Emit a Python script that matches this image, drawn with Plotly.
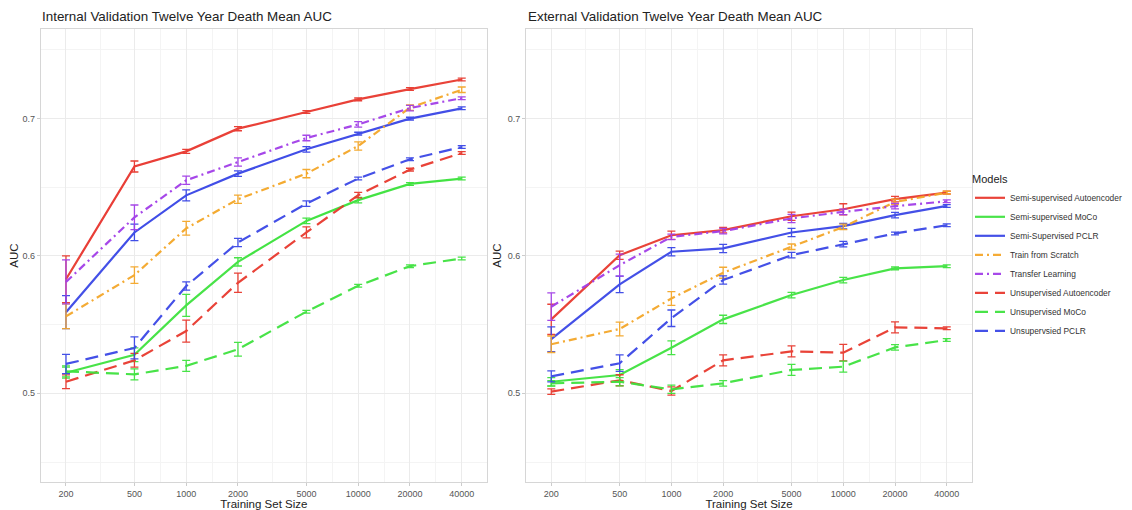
import plotly.graph_objects as go

# page body has an 8px margin, so the figure is drawn 8px in from the window edge
OFF = 8
W, H = 1132 - OFF, 510 - OFF
TOP, BOTTOM = 29, 482  # plot area, window pixels


def px_x(px):
    return (px - OFF) / W


def px_y(py):
    return (BOTTOM - py) / (BOTTOM - TOP)


sizes = [200, 500, 1000, 2000, 5000, 10000, 20000, 40000]
tick_text = ["200", "500", "1000", "2000", "5000", "10000", "20000", "40000"]

models = ["Semi-supervised Autoencoder", "Semi-supervised MoCo", "Semi-Supervised PCLR",
          "Train from Scratch", "Transfer Learning", "Unsupervised Autoencoder",
          "Unsupervised MoCo", "Unsupervsied PCLR"]

# internal validation mean AUC
int_semi_ae = [0.583, 0.665, 0.676, 0.6925, 0.7046, 0.7138, 0.7213, 0.7283]
int_semi_moco = [0.515, 0.528, 0.564, 0.5956, 0.6254, 0.6405, 0.6523, 0.6562]
int_semi_pclr = [0.559, 0.617, 0.644, 0.6598, 0.6775, 0.6889, 0.6998, 0.7073]
int_scratch = [0.556, 0.586, 0.620, 0.6412, 0.6598, 0.6799, 0.7078, 0.7208]
int_transfer = [0.581, 0.628, 0.655, 0.6683, 0.6857, 0.6956, 0.7075, 0.7147]
int_unsup_ae = [0.5084, 0.524, 0.5453, 0.5804, 0.617, 0.6441, 0.6627, 0.6748]
int_unsup_moco = [0.516, 0.5138, 0.520, 0.532, 0.5594, 0.5782, 0.5925, 0.5981]
int_unsup_pclr = [0.5214, 0.533, 0.578, 0.6097, 0.638, 0.6562, 0.6702, 0.6792]

int_semi_ae_err = [0.017, 0.004, 0.0015, 0.0015, 0.001, 0.001, 0.001, 0.001]
int_semi_moco_err = [0.004, 0.005, 0.008, 0.003, 0.002, 0.002, 0.001, 0.001]
int_semi_pclr_err = [0.012, 0.006, 0.004, 0.002, 0.002, 0.001, 0.001, 0.001]
int_scratch_err = [0.009, 0.006, 0.005, 0.003, 0.003, 0.003, 0.002, 0.002]
int_transfer_err = [0.016, 0.009, 0.003, 0.003, 0.002, 0.002, 0.002, 0.001]
int_unsup_ae_err = [0.005, 0.005, 0.008, 0.007, 0.004, 0.002, 0.001, 0.001]
int_unsup_moco_err = [0.004, 0.004, 0.004, 0.005, 0.001, 0.001, 0.001, 0.001]
int_unsup_pclr_err = [0.007, 0.008, 0.003, 0.003, 0.002, 0.001, 0.001, 0.001]

# external validation mean AUC
ext_semi_ae = [0.5538, 0.6005, 0.615, 0.6187, 0.6288, 0.6339, 0.6412, 0.646]
ext_semi_moco = [0.5084, 0.5133, 0.5332, 0.5538, 0.5715, 0.5824, 0.5909, 0.5925]
ext_semi_pclr = [0.5394, 0.5792, 0.603, 0.6054, 0.617, 0.6216, 0.6296, 0.6363]
ext_scratch = [0.5357, 0.5468, 0.569, 0.5877, 0.6066, 0.621, 0.6392, 0.646]
ext_transfer = [0.563, 0.5932, 0.6138, 0.618, 0.6272, 0.632, 0.6361, 0.6397]
ext_unsup_ae = [0.5012, 0.5095, 0.5017, 0.524, 0.5305, 0.5296, 0.548, 0.5473]
ext_unsup_moco = [0.5073, 0.5084, 0.5029, 0.5073, 0.517, 0.5194, 0.5334, 0.5388]
ext_unsup_pclr = [0.5123, 0.5219, 0.5546, 0.5824, 0.6005, 0.6085, 0.6163, 0.6223]

ext_semi_ae_err = [0.011, 0.003, 0.003, 0.002, 0.003, 0.004, 0.002, 0.001]
ext_semi_moco_err = [0.003, 0.004, 0.005, 0.003, 0.002, 0.002, 0.001, 0.001]
ext_semi_pclr_err = [0.009, 0.006, 0.003, 0.003, 0.003, 0.002, 0.002, 0.001]
ext_scratch_err = [0.006, 0.005, 0.005, 0.004, 0.002, 0.002, 0.002, 0.001]
ext_transfer_err = [0.010, 0.008, 0.002, 0.002, 0.003, 0.002, 0.002, 0.001]
ext_unsup_ae_err = [0.002, 0.004, 0.003, 0.004, 0.004, 0.006, 0.004, 0.001]
ext_unsup_moco_err = [0.002, 0.003, 0.003, 0.002, 0.004, 0.004, 0.002, 0.001]
ext_unsup_pclr_err = [0.004, 0.006, 0.006, 0.003, 0.002, 0.002, 0.001, 0.001]

internal = [(int_semi_ae, int_semi_ae_err), (int_semi_moco, int_semi_moco_err),
            (int_semi_pclr, int_semi_pclr_err), (int_scratch, int_scratch_err),
            (int_transfer, int_transfer_err), (int_unsup_ae, int_unsup_ae_err),
            (int_unsup_moco, int_unsup_moco_err), (int_unsup_pclr, int_unsup_pclr_err)]
external = [(ext_semi_ae, ext_semi_ae_err), (ext_semi_moco, ext_semi_moco_err),
            (ext_semi_pclr, ext_semi_pclr_err), (ext_scratch, ext_scratch_err),
            (ext_transfer, ext_transfer_err), (ext_unsup_ae, ext_unsup_ae_err),
            (ext_unsup_moco, ext_unsup_moco_err), (ext_unsup_pclr, ext_unsup_pclr_err)]

RED, GREEN, BLUE = "#e8392e", "#3fe23f", "#3a47e6"
ORANGE, PURPLE = "#f4a72a", "#a23fe8"
colors = [RED, GREEN, BLUE, ORANGE, PURPLE, RED, GREEN, BLUE]
DASH = "13px,7px"
DASHDOT = "8px,4px,2px,4px"
dashes = ["solid", "solid", "solid", DASHDOT, DASHDOT, DASH, DASH, DASH]

fig = go.Figure()

for panel, (data, xa, ya) in enumerate([(internal, "x", "y"), (external, "x2", "y2")]):
    for i, (vals, err) in enumerate(data):
        fig.add_trace(go.Scatter(
            x=sizes, y=vals, mode="lines", name=models[i],
            legendgroup=models[i], showlegend=(panel == 0),
            line=dict(color=colors[i], width=2.2, dash=dashes[i]),
            opacity=0.95,
            error_y=dict(type="data", array=err, visible=True, color=colors[i],
                         thickness=1.3, width=4),
            xaxis=xa, yaxis=ya,
        ))

# minor gridlines halfway (in log space) between the size ticks
minor_vals = [(a * b) ** 0.5 for a, b in zip(sizes[:-1], sizes[1:])]
minor_vals = [200 * (200 / 500) ** 0.5] + minor_vals + [40000 * (40000 / 20000) ** 0.5]

GRID = "#ebebeb"
BORDER = "#d6d6d6"
xcommon = dict(type="log", range=[2.154, 4.749], tickvals=sizes, ticktext=tick_text,
               showgrid=True, gridcolor=GRID, gridwidth=1,
               minor=dict(tickmode="array", tickvals=minor_vals, showgrid=True,
                          gridcolor="#f4f4f4", gridwidth=1),
               showline=True, linecolor=BORDER, linewidth=1, mirror=True,
               ticks="outside", ticklen=3, tickcolor="#cccccc",
               tickfont=dict(size=9, color="#555555"),
               title=dict(text="Training Set Size", font=dict(size=11.5, color="#222222"), standoff=3),
               zeroline=False, automargin=False)
ycommon = dict(range=[0.4355, 0.765], tickvals=[0.5, 0.6, 0.7], ticktext=["0.5", "0.6", "0.7"],
               showgrid=True, gridcolor=GRID, gridwidth=1,
               minor=dict(tickmode="array", tickvals=[0.45, 0.55, 0.65, 0.75], showgrid=True,
                          gridcolor="#f4f4f4", gridwidth=1),
               showline=True, linecolor=BORDER, linewidth=1, mirror=True,
               ticks="outside", ticklen=3, tickcolor="#cccccc",
               tickfont=dict(size=9, color="#555555"),
               title=dict(text="AUC", font=dict(size=11.5, color="#222222"), standoff=3),
               zeroline=False, automargin=False, domain=[0, 1])

fig.update_layout(
    width=W, height=H,
    margin=dict(l=0, r=0, t=TOP - OFF, b=510 - BOTTOM, autoexpand=False),
    paper_bgcolor="white", plot_bgcolor="white",
    font=dict(family="Liberation Sans, Arial, sans-serif", color="#222222"),
    xaxis=dict(xcommon, domain=[px_x(40.7), px_x(487)], anchor="y"),
    yaxis=dict(ycommon, anchor="x"),
    xaxis2=dict(xcommon, domain=[px_x(526), px_x(972)], anchor="y2"),
    yaxis2=dict(ycommon, anchor="x2"),
    legend=dict(x=px_x(970), y=px_y(169), xanchor="left", yanchor="top",
                title=dict(text="Models", font=dict(size=11, color="#222222")),
                font=dict(size=8.4, color="#333333"), tracegroupgap=0,
                bgcolor="rgba(0,0,0,0)", itemwidth=30),
    showlegend=True,
)

fig.add_annotation(text="Internal Validation Twelve Year Death Mean AUC", x=px_x(40), y=px_y(16),
                   xref="paper", yref="paper", xanchor="left", yanchor="middle",
                   showarrow=False, font=dict(size=13.4, color="#222222"))
fig.add_annotation(text="External Validation Twelve Year Death Mean AUC", x=px_x(526), y=px_y(16),
                   xref="paper", yref="paper", xanchor="left", yanchor="middle",
                   showarrow=False, font=dict(size=13.4, color="#222222"))

fig.write_html("out.html")
